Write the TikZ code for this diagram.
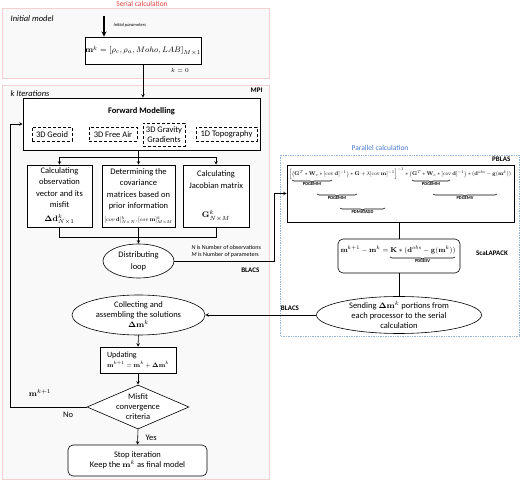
\documentclass[tikz,border=0pt]{standalone}
\usepackage{amsmath}
\usepackage{amsfonts}
\usepackage{graphicx}
\usepackage[no-math]{fontspec}
\setmainfont{Carlito}
\usepackage{tikz}
\usetikzlibrary{shapes.geometric}
\usetikzlibrary{positioning}
\usetikzlibrary{arrows.meta, calc}
\usetikzlibrary{decorations.pathreplacing}
\definecolor{serialred}{RGB}{232,64,64}
\definecolor{serialedge}{RGB}{244,208,208}
\definecolor{serialfill}{RGB}{249,249,249}
\definecolor{parblue}{RGB}{72,122,212}
\definecolor{paredge}{RGB}{150,182,226}

\begin{document}
\begin{tikzpicture}
  [
    x=1pt, y=-1pt, line width=0.6pt,
    >=stealth,
    region/.style = {draw=serialedge, fill=serialfill},
    box/.style    = {draw, fill=white, align=center, inner sep=0pt},
    dbox/.style   = {draw, densely dashed, fill=white, align=center, inner sep=0pt},
    ell/.style    = {draw, ellipse, fill=white, align=center, inner xsep=0pt, inner ysep=-3pt},
    crit/.style   = {draw, diamond, aspect=2.3, fill=white, align=center, inner xsep=0pt, inner ysep=-3pt},
    tag/.style    = {font=\fontsize{7}{8}\selectfont\bfseries},
    brace/.style  = {decorate, decoration={brace, mirror, amplitude=2pt}},
    blab/.style   = {font=\fontsize{4.5}{5}\selectfont\bfseries, inner sep=0.5pt},
    note/.style   = {font=\fontsize{6}{7}\selectfont},
  ]

  \tikzstyle{every node}=[font=\fontsize{8.5}{11.5}\selectfont]

  \useasboundingbox (0,0) rectangle (520,481);

  % the regions
  \draw[region] (2,8) rectangle (269,78);
  \draw[region] (2,85) rectangle (269,479);
  \draw[draw=paredge, densely dotted, line width=0.7pt] (280,155) rectangle (519,336);

  \node (serial) at (142,4) [text=serialred, font=\fontsize{7.5}{8}\selectfont] {Serial calculation};
  \node (parallel) at (380,148) [text=parblue, font=\fontsize{7.5}{8}\selectfont] {Parallel calculation};
  \node (initlab) at (7,19) [anchor=west, font=\fontsize{8.5}{9}\selectfont\itshape] {Initial model};
  \node (iterlab) at (7,94) [anchor=west, font=\fontsize{8.5}{9}\selectfont\itshape] {k Iterations};
  \node (mpi) at (266,90) [anchor=east, tag] {MPI};

  % initial model
  \coordinate (instart) at (104,16);
  \node (mk) at (143,50.5) [box, minimum width=102pt, minimum height=27pt]
    {$\mathbf{m}^k=[\rho_c,\rho_a,Moho,LAB]_{M\times 1}$};
  \node (inpar) at (110,25) [anchor=west, font=\fontsize{4.5}{5}\selectfont\itshape] {Initial parameters};
  \node (kzero) at (180,70) [font=\fontsize{6}{7}\selectfont] {$k=0$};
  \draw[->, line width=1.3pt] (instart) -- (instart |- mk.north);

  % forward modelling
  \node (fwd) at (141.5,124) [box, minimum width=237pt, minimum height=52pt] {};
  \node (fwdlab) at (141.5,111) [font=\fontsize{8.5}{9}\selectfont\bfseries] {Forward Modelling};
  \node (geoid) at (52,134.5) [dbox, minimum width=40pt, minimum height=14pt] {3D Geoid};
  \node (freeair) at (113,134.5) [dbox, minimum width=48pt, minimum height=14pt] {3D Free Air};
  \node (gravity) at (164,134.5) [dbox, minimum width=42pt, minimum height=23pt,
    font=\fontsize{8.5}{10}\selectfont] {3D Gravity\\Gradients};
  \node (topo) at (226.5,134.5) [dbox, minimum width=61pt, minimum height=14pt] {1D Topography};

  \node (obs) at (59.5,196) [box, minimum width=65pt, minimum height=62pt]
    {Calculating\\observation\\vector and its\\misfit\\[2pt]$\mathbf{\Delta d}^k_{N\times 1}$};
  \node (cov) at (138.5,196) [box, minimum width=73pt, minimum height=62pt]
    {Determining the\\covariance\\matrices based on\\prior information\\[1pt]
     \resizebox{68pt}{!}{$[cov\,\mathbf{d}]^k_{N\times N},[cov\,\mathbf{m}]^k_{M\times M}$}};
  \node (jac) at (216,196) [box, minimum width=66pt, minimum height=62pt]
    {Calculating\\Jacobian matrix\\[18pt]$\mathbf{G}^k_{N\times M}$};

  \coordinate (fork) at (138.5,157);
  \coordinate (merge) at (138.5,237);
  \draw[->] (mk.south) -- (mk.south |- fwd.north);
  \draw (fork |- fwd.south) -- (fork);
  \draw (obs.north |- fork) -- (jac.north |- fork);
  \draw[->] (obs.north |- fork) -- (obs.north);
  \draw[->] (fork) -- (cov.north);
  \draw[->] (jac.north |- fork) -- (jac.north);

  % distributing
  \node (dist) at (138.5,261) [ell, minimum width=71pt, minimum height=34pt] {Distributing\\loop};
  \node (nnote) at (188,247) [anchor=west, note] {\textit{N} is Number of observations};
  \node (mnote) at (188,255) [anchor=west, note] {\textit{M} is Number of parameters};
  \node (blacsa) at (263,270) [anchor=east, tag] {BLACS};
  \draw (obs.south) -- (obs.south |- merge) -- (jac.south |- merge) -- (jac.south);
  \draw[->] (cov.south) -- (dist.north);

  % parallel part
  \node (pblas) at (400.5,193.5) [box, minimum width=227pt, minimum height=57pt] {};
  \node (pblaslab) at (514,165) [anchor=south east, tag] {PBLAS};
  \node (pbeq) at (400,174) {\resizebox{222pt}{!}{$\Bigl[\bigl(\mathbf{G}^{T}*\mathbf{W}_e*[\mathrm{cov}\,\mathbf{d}]^{-1}\bigr)*\mathbf{G}+\lambda[\mathrm{cov}\,\mathbf{m}]^{-1}\Bigr]^{-1}*\bigl(\mathbf{G}^{T}*\mathbf{W}_e*[\mathrm{cov}\,\mathbf{d}]^{-1}\bigr)*(\mathbf{d}^{obs}-\mathbf{g}(\mathbf{m}^k))$}};
  \draw[brace] (292,180) -- (332,180) node (bra) [blab, midway, below=2pt] {PDGEMM};
  \draw[brace] (317,194) -- (357,194) node (brb) [blab, midway, below=2pt] {PDGEMM};
  \draw[brace] (340,208) -- (385,208) node (brc) [blab, midway, below=2pt] {PDMATADD};
  \draw[brace] (412,180) -- (450,180) node (brd) [blab, midway, below=2pt] {PDGEMM};
  \draw[brace] (433,194) -- (497,194) node (bre) [blab, midway, below=2pt] {PDGEMV};

  \coordinate (turn) at (274,193.5);
  \draw[->] (dist.east) -- (dist.east -| turn) -- (turn) -- (pblas.west);

  \node (scal) at (399,256) [box, rounded corners=5pt, minimum width=122pt, minimum height=34pt] {};
  \node (sceq) at (398,250) {\resizebox{115pt}{!}{$\mathbf{m}^{k+1}-\mathbf{m}^k=\mathbf{K}*(\mathbf{d}^{obs}-\mathbf{g}(\mathbf{m}^k))$}};
  \draw[brace] (390,257) -- (455,257) node (brf) [blab, midway, below=2pt] {PDGESV};
  \node (scallab) at (492,253) [tag] {ScaLAPACK};
  \draw (scal.north |- pblas.south) -- (scal.north);

  \node (send) at (399,315) [ell, minimum width=165pt, minimum height=37pt,
    font=\fontsize{8.5}{10}\selectfont]
    {Sending $\mathbf{\Delta m}^k$ portions from\\each processor to the serial\\calculation};
  \node (blacsb) at (290,308) [tag] {BLACS};
  \draw (scal.south) -- (send.north);

  % serial loop
  \node (coll) at (138.5,315) [ell, minimum width=133pt, minimum height=40pt,
    font=\fontsize{8.5}{10}\selectfont]
    {Collecting and\\assembling the solutions\\$\mathbf{\Delta m}^k$};
  \node (upd) at (138,360) [box, minimum width=76pt, minimum height=26pt, align=left,
    font=\fontsize{8}{9.5}\selectfont]
    {Updating\\\resizebox{62pt}{!}{$\mathbf{m}^{k+1}=\mathbf{m}^k+\mathbf{\Delta m}^k$}};
  \node (conv) at (138,407) [crit, minimum width=102pt, minimum height=44pt,
    font=\fontsize{8.5}{10}\selectfont] {Misfit\\convergence\\criteria};
  \node (stop) at (137.5,460.5) [box, rounded corners=5pt, minimum width=139pt, minimum height=31pt,
    font=\fontsize{8.5}{10}\selectfont]
    {Stop iteration\\Keep the $\mathbf{m}^k$ as final model};
  \node (yes) at (142,438) [anchor=west] {Yes};
  \node (no) at (68,415) {No};
  \node (mnext) at (40,393) {$\mathbf{m}^{k+1}$};
  \coordinate (back) at (10,407);

  \draw[->] (send.west) -- (coll.east);
  \draw[->] (coll.south) -- (upd.north);
  \draw[->] (upd.south) -- (conv.north);
  \draw[->] (conv.south) -- (stop.north);
  \draw[->] (conv.west) -- (back) |- (fwd.west);

\end{tikzpicture}
\end{document}
